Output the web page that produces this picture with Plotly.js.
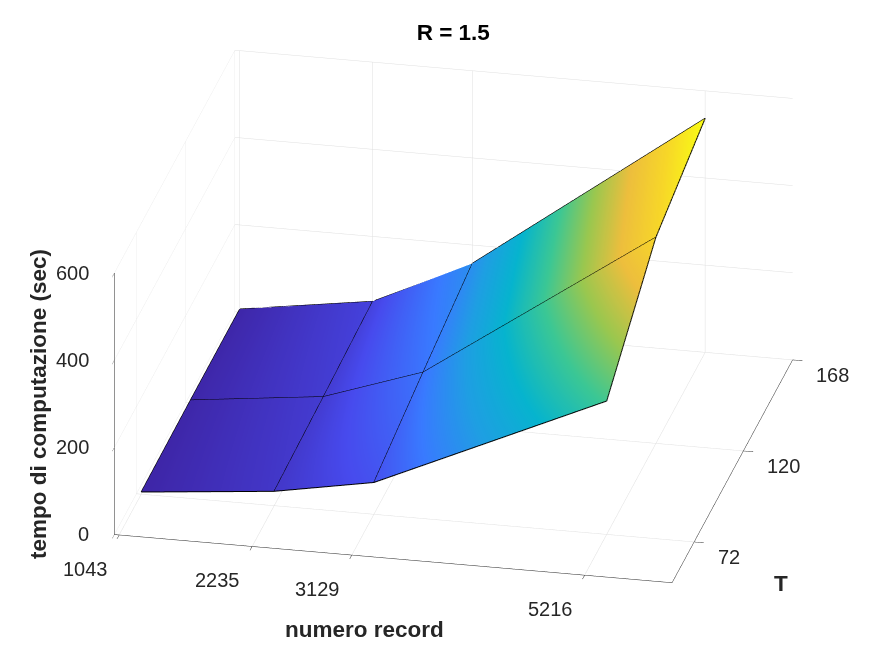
<!DOCTYPE html>
<html>
<head>
<meta charset="utf-8">
<script src="https://cdn.plot.ly/plotly-3.0.1.min.js"></script>
<style>
  html, body { margin: 0; padding: 0; background: #fff; }
  #plot { width: 875px; height: 656px; }
</style>
</head>
<body>
<div id="plot"></div>
<script>
// numero record (x), T (y), tempo di computazione in sec (z, one row per T)
var records = [1043, 2235, 3129, 5216];
var tValues = [72, 120, 168];
var timeT72 = [5, 33, 73, 306];
var timeT120 = [7, 41, 117, 473];
var timeT168 = [7, 51, 158, 537];
var zTicks = [0, 200, 400, 600];

var zRows = [timeT72, timeT120, timeT168];
var xRange = [1000, 6000], tRange = [50.5, 168], zRange = [0, 600];

// MATLAB parula (approx.)
var parula = [
  [0.000, 'rgb(62,38,168)'],
  [0.111, 'rgb(71,74,237)'],
  [0.222, 'rgb(57,122,255)'],
  [0.333, 'rgb(31,158,227)'],
  [0.444, 'rgb(6,180,206)'],
  [0.556, 'rgb(59,199,149)'],
  [0.667, 'rgb(154,199,79)'],
  [0.778, 'rgb(237,190,61)'],
  [0.889, 'rgb(247,215,40)'],
  [1.000, 'rgb(249,251,21)']
];

var data = [{
  type: 'surface',
  x: records,
  y: tValues,
  z: zRows,
  colorscale: parula,
  showscale: false,
  hoverinfo: 'skip',
  lighting: {ambient: 1, diffuse: 0, specular: 0, roughness: 1, fresnel: 0}
}];

// black mesh edges along rows and columns
tValues.forEach(function (t, j) {
  data.push({
    type: 'scatter3d', mode: 'lines',
    x: records, y: records.map(function () { return t; }), z: zRows[j],
    line: {color: 'black', width: 2}, hoverinfo: 'skip', showlegend: false
  });
});
records.forEach(function (r, i) {
  data.push({
    type: 'scatter3d', mode: 'lines',
    x: tValues.map(function () { return r; }), y: tValues,
    z: zRows.map(function (row) { return row[i]; }),
    line: {color: 'black', width: 2}, hoverinfo: 'skip', showlegend: false
  });
});

var fam = 'Liberation Sans, Arial, sans-serif';
var tickFont = {family: fam, size: 20, color: '#262626'};
var labFont = {family: fam, size: 22.5, color: '#262626'};

function axis(range, vals) {
  return {
    range: range,
    tickvals: vals,
    showticklabels: false,
    title: {text: ''},
    showgrid: true,
    gridcolor: 'rgb(223,223,223)',
    gridwidth: 1,
    showbackground: false,
    showline: true,
    linecolor: '#262626',
    linewidth: 1,
    ticks: 'outside',
    tickcolor: '#262626',
    ticklen: 10,
    zeroline: false,
    showspikes: false
  };
}

// tick labels placed at the tick values, MATLAB-style (horizontal, off the box edges)
var xEdge = xRange[1] - 1;
var sceneNotes = [];
records.forEach(function (v) {
  sceneNotes.push({x: v, y: tRange[0], z: zRange[0], text: String(v), showarrow: false,
    xanchor: 'center', yanchor: 'middle', xshift: -34, yshift: -34, font: tickFont});
});
tValues.forEach(function (v) {
  sceneNotes.push({x: xEdge, y: v, z: zRange[0], text: String(v), showarrow: false,
    xanchor: 'left', yanchor: 'middle', xshift: 22, yshift: -15, font: tickFont});
});
zTicks.forEach(function (v) {
  sceneNotes.push({x: xRange[0], y: tRange[0], z: v, text: String(v), showarrow: false,
    xanchor: 'right', yanchor: 'middle', xshift: -23, yshift: 0, font: tickFont});
});

var e = [0.1937, -0.896, 0.3996];
var k = 3;
var s = 1.82;

var layout = {
  width: 875,
  height: 656,
  margin: {l: 0, r: 0, t: 0, b: 0},
  paper_bgcolor: 'white',
  showlegend: false,
  title: {
    text: '<b>R = 1.5</b>',
    x: 0.518, xanchor: 'center',
    y: 0.951, yanchor: 'middle',
    font: {family: fam, size: 22.5, color: '#000'}
  },
  annotations: [
    {text: '<b>numero record</b>', xref: 'paper', yref: 'paper', x: 364 / 875, y: 1 - 629 / 656,
      xanchor: 'center', yanchor: 'middle', showarrow: false, font: labFont},
    {text: '<b>T</b>', xref: 'paper', yref: 'paper', x: 781 / 875, y: 1 - 583 / 656,
      xanchor: 'center', yanchor: 'middle', showarrow: false, font: labFont},
    {text: '<b>tempo di computazione (sec)</b>', xref: 'paper', yref: 'paper', x: 38 / 875, y: 1 - 404 / 656,
      xanchor: 'center', yanchor: 'middle', textangle: -90, showarrow: false, font: labFont}
  ],
  scene: {
    domain: {x: [0.04, 0.996], y: [0.04, 0.996]},
    xaxis: axis(xRange, records),
    yaxis: axis(tRange, tValues),
    zaxis: axis(zRange, zTicks),
    aspectmode: 'manual',
    aspectratio: {x: s, y: s, z: s * 0.5},
    camera: {
      eye: {x: e[0] * k, y: e[1] * k, z: e[2] * k},
      center: {x: 0, y: 0, z: 0},
      up: {x: 0, y: 0, z: 1},
      projection: {type: 'orthographic'}
    },
    annotations: sceneNotes
  }
};

Plotly.newPlot('plot', data, layout, {displayModeBar: false});
</script>
</body>
</html>
